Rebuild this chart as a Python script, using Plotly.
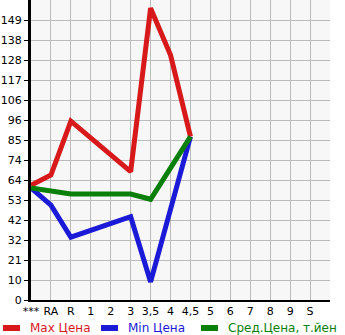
import plotly.graph_objects as go

categories = ["***", "RA", "R", "1", "2", "3", "3,5", "4", "4,5", "5", "6", "7", "8", "9", "S"]
max_price = [61.0, 66.5, 95.2, None, None, 68.3, 155.3, 130.3, 86.9, None, None, None, None, None, None]
min_price = [59.6, 50.5, 33.4, None, None, 44.3, 9.6, None, 86.9, None, None, None, None, None, None]
avg_price = [59.6, 58.1, 56.4, None, None, 56.4, 53.6, None, 86.9, None, None, None, None, None, None]
y_tick_labels = ["0", "10", "21", "32", "42", "53", "64", "74", "85", "96", "106", "117", "128", "138", "149"]
series_names = ["Max Цена", "Min Цена", "Сред.Цена, т.йен"]
series_colors = ["#d7191c", "#1a1ad7", "#0a800a"]

step = 149 / 14
y_tick_vals = [i * step for i in range(len(y_tick_labels))]
x_idx = list(range(len(categories)))

W, H = 345, 335
L, R, T, B = 31, 15, 0, 35
pw, ph = W - L - R, H - T - B

def px_x(p):
    return (p - L) / pw

def px_y(p):
    return (H - B - p) / ph

fig = go.Figure()
for name, vals, color in zip(series_names, [max_price, min_price, avg_price], series_colors):
    fig.add_trace(go.Scatter(
        x=x_idx, y=vals, mode="lines", connectgaps=True,
        line=dict(color=color, width=5), name=name, showlegend=False,
    ))

# custom legend row at bottom
legend_x = [0, 98, 198]
for name, color, lx in zip(series_names, series_colors, legend_x):
    fig.add_shape(type="line", xref="paper", yref="paper",
                  x0=px_x(lx + 3), x1=px_x(lx + 20), y0=px_y(328), y1=px_y(328),
                  line=dict(color=color, width=6))
    fig.add_annotation(xref="paper", yref="paper", x=px_x(lx + 28), y=px_y(328),
                       xanchor="left", yanchor="middle", showarrow=False,
                       text=name, font=dict(size=12, color=color))

fig.update_layout(
    width=W, height=H,
    margin=dict(l=L, r=R, t=T, b=B),
    paper_bgcolor="white", plot_bgcolor="#f7f7f7",
    font=dict(family="DejaVu Sans", size=11, color="black"),
    showlegend=False,
    xaxis=dict(range=[0, 15], tickmode="array", tickvals=x_idx + [15], ticktext=categories + [""],
               showgrid=True, gridcolor="#bbbbbb", gridwidth=1,
               showline=True, linecolor="black", linewidth=2,
               ticks="", zeroline=False, fixedrange=True),
    yaxis=dict(range=[0, 15 * step], tickmode="array", tickvals=y_tick_vals,
               ticktext=y_tick_labels, showgrid=True, gridcolor="#bbbbbb", gridwidth=1,
               showline=True, linecolor="black", linewidth=3,
               ticks="outside", ticklen=4, tickcolor="black", tickwidth=1,
               zeroline=False, fixedrange=True),
)
fig.write_html("out.html")
